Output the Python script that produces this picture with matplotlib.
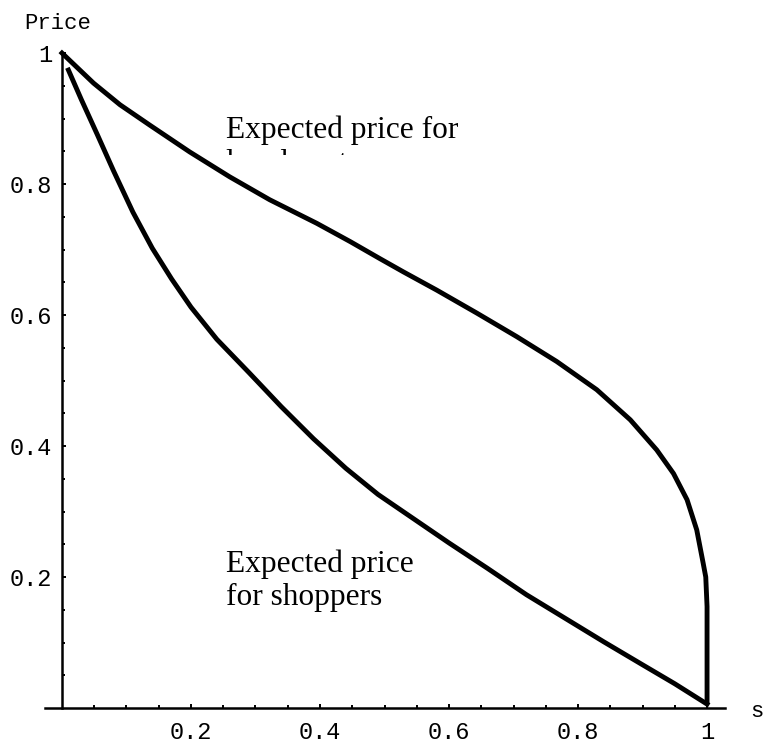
import matplotlib
matplotlib.use('Agg')
import matplotlib.pyplot as plt
from matplotlib.patches import Rectangle

# Curve readings (s, expected price)
loyal_s = [0.0, 0.049, 0.090, 0.136, 0.198, 0.260, 0.322, 0.395, 0.447, 0.493,
           0.529, 0.581, 0.643, 0.705, 0.767, 0.829, 0.881, 0.922, 0.948, 0.969,
           0.984, 0.994, 0.998, 1.0, 1.0]
loyal_p = [1.0, 0.954, 0.921, 0.890, 0.849, 0.811, 0.776, 0.740, 0.712, 0.686,
           0.666, 0.638, 0.603, 0.567, 0.529, 0.486, 0.440, 0.394, 0.358, 0.318,
           0.272, 0.221, 0.200, 0.155, 0.01]

shop_s = [0.010, 0.030, 0.055, 0.080, 0.110, 0.140, 0.170, 0.200, 0.240, 0.290,
          0.340, 0.390, 0.440, 0.490, 0.545, 0.600, 0.660, 0.720, 0.780, 0.840,
          0.900, 0.950, 1.000]
shop_p = [0.974, 0.929, 0.875, 0.820, 0.757, 0.702, 0.655, 0.612, 0.563, 0.512,
          0.460, 0.411, 0.366, 0.326, 0.289, 0.252, 0.213, 0.173, 0.137, 0.101,
          0.066, 0.037, 0.006]

major_ticks = [0.2, 0.4, 0.6, 0.8, 1.0]
major_labels = ['0.2', '0.4', '0.6', '0.8', '1']
minor_ticks = [i * 0.05 for i in range(1, 21)]

mono = 'Liberation Mono'
serif = 'Liberation Serif'

fig = plt.figure(figsize=(7.63, 7.42), dpi=100)
ax = fig.add_axes([0.0474, 0.0105, 0.930, 0.971])
ax.set_xlim(-0.04, 1.06)
ax.set_ylim(-0.04, 1.06)

ax.plot(loyal_s, loyal_p, color='black', lw=3.5, solid_joinstyle='round', zorder=2)
ax.plot(shop_s, shop_p, color='black', lw=3.5, solid_joinstyle='round', zorder=2)

# Mathematica style axes crossing at the origin
for side in ['top', 'right']:
    ax.spines[side].set_visible(False)
ax.spines['left'].set_position(('data', 0))
ax.spines['bottom'].set_position(('data', 0))
ax.spines['left'].set_bounds(0, 1)
ax.spines['bottom'].set_bounds(-0.026, 1.028)
ax.spines['left'].set_linewidth(1.8)
ax.spines['bottom'].set_linewidth(1.8)

ax.set_xticks(major_ticks)
ax.set_xticklabels(major_labels)
ax.set_yticks(major_ticks)
ax.set_yticklabels(major_labels)
ax.set_xticks(minor_ticks, minor=True)
ax.set_yticks(minor_ticks, minor=True)
ax.tick_params(which='both', direction='in', width=1.4, labelsize=17)
ax.tick_params(which='major', length=3.2)
ax.tick_params(which='minor', length=2.4)
ax.tick_params(axis='x', which='major', pad=9)
ax.tick_params(axis='y', which='major', pad=7)
for lab in ax.get_xticklabels() + ax.get_yticklabels():
    lab.set_fontfamily(mono)

ax.text(-0.006, 1.036, 'Price', ha='center', va='baseline', fontsize=16, family=mono)
ax.text(1.078, -0.0137, 's', ha='center', va='baseline', fontsize=16, family=mono)

# upper label: second line is cut off in the original, mask it below the curve
ax.text(0.254, 0.820, 'Expected price for\nloyal customers', ha='left', va='baseline',
        fontsize=22.6, family=serif, linespacing=1.2, zorder=1)
ax.add_patch(Rectangle((0.24, 0.76), 0.42, 0.085, facecolor='white',
                       edgecolor='none', zorder=1.5))

ax.text(0.254, 0.157, 'Expected price\nfor shoppers', ha='left', va='baseline',
        fontsize=22.6, family=serif, linespacing=1.2)

plt.savefig('out.png', dpi=100)
